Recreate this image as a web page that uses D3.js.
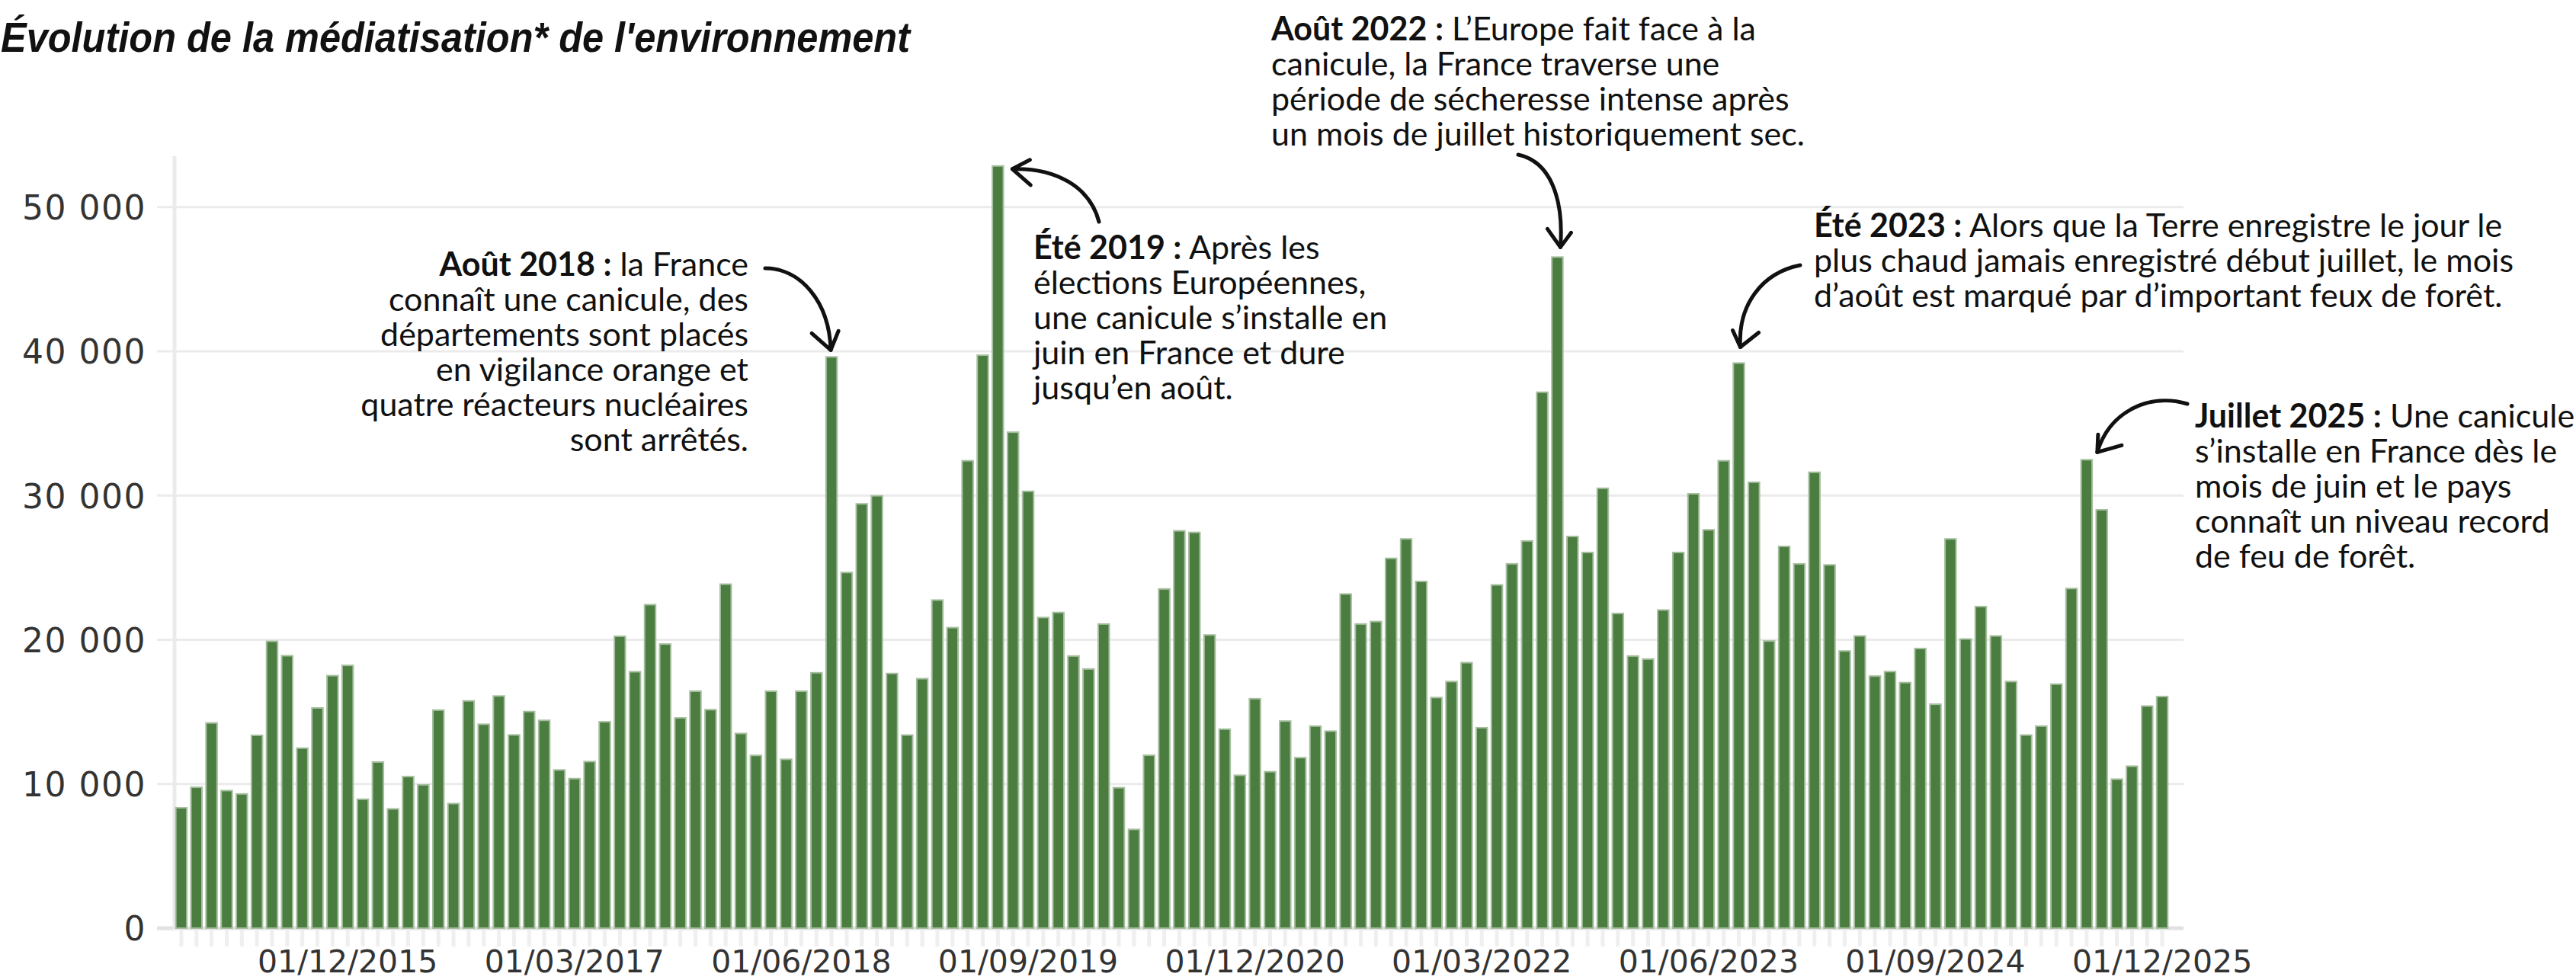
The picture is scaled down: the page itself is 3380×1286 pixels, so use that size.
<!DOCTYPE html>
<html>
<head>
<meta charset="utf-8">
<script src="https://cdn.jsdelivr.net/npm/d3@7"></script>
<style>
  body { margin: 0; background: #fff; }
  svg { display: block; }
</style>
</head>
<body>
<div id="vis"></div>
<script>
const FRAME_WIDTH = 3380;
const FRAME_HEIGHT = 1286;

// monthly values, one array per year (janvier -> décembre)
const VALUES_2015 = [8350, 9770, 14230, 9540, 9310, 13370, 19890, 18890, 12480, 15270, 17510, 18220];
const VALUES_2016 = [8940, 11520, 8270, 10510, 9940, 15120, 8640, 15760, 14140, 16100, 13400, 15020];
const VALUES_2017 = [14410, 10970, 10370, 11550, 14310, 20240, 17780, 22430, 19700, 14580, 16430, 15150];
const VALUES_2018 = [23850, 13500, 11980, 16430, 11710, 16430, 17710, 39610, 24660, 29420, 29980, 17660];
const VALUES_2019 = [13390, 17300, 22750, 20840, 32410, 39730, 52850, 34390, 30290, 21540, 21890, 18870];
const VALUES_2020 = [17970, 21090, 9740, 6850, 11990, 23520, 27550, 27440, 20330, 13800, 10600, 15910];
const VALUES_2021 = [10850, 14360, 11820, 14010, 13660, 23170, 21090, 21260, 25640, 26990, 24040, 15990];
const VALUES_2022 = [17100, 18410, 13900, 23800, 25260, 26850, 37160, 46530, 27160, 26050, 30500, 21820];
const VALUES_2023 = [18870, 18660, 22060, 26050, 30120, 27620, 32410, 39180, 30920, 19910, 26470, 25260];
const VALUES_2024 = [31610, 25190, 19220, 20260, 17480, 17790, 17030, 19390, 15530, 26990, 20050, 22300];
const VALUES_2025 = [20260, 17100, 13390, 14010, 16920, 23550, 32480, 29010, 10330, 11230, 15400, 16060];

const YEARS = [2015, 2016, 2017, 2018, 2019, 2020, 2021, 2022, 2023, 2024, 2025];
const YEAR_VALUES = [VALUES_2015, VALUES_2016, VALUES_2017, VALUES_2018, VALUES_2019, VALUES_2020,
                     VALUES_2021, VALUES_2022, VALUES_2023, VALUES_2024, VALUES_2025];

const X_TICK_LABELS = ["01/12/2015", "01/03/2017", "01/06/2018", "01/09/2019", "01/12/2020",
                       "01/03/2022", "01/06/2023", "01/09/2024", "01/12/2025"];
const Y_TICKS = [0, 10000, 20000, 30000, 40000, 50000];

const TITLE = "Évolution de la médiatisation* de l'environnement";

// annotations : bold heading + lines of text
const NOTE_2018 = { head: "Août 2018 :", lines: [" la France", "connaît une canicule, des", "départements sont placés",
                    "en vigilance orange et", "quatre réacteurs nucléaires", "sont arrêtés."], month: "08/2018" };
const NOTE_2019 = { head: "Été 2019 :", lines: [" Après les", "élections Européennes,", "une canicule s’installe en",
                    "juin en France et dure", "jusqu’en août."], month: "07/2019" };
const NOTE_2022 = { head: "Août 2022 :", lines: [" L’Europe fait face à la", "canicule, la France traverse une",
                    "période de sécheresse intense après", "un mois de juillet historiquement sec."], month: "08/2022" };
const NOTE_2023 = { head: "Été 2023 :", lines: [" Alors que la Terre enregistre le jour le",
                    "plus chaud jamais enregistré début juillet, le mois", "d’août est marqué par d’important feux de forêt."], month: "08/2023" };
const NOTE_2025 = { head: "Juillet 2025 :", lines: [" Une canicule", "s’installe en France dès le", "mois de juin et le pays",
                    "connaît un niveau record", "de feu de forêt."], month: "07/2025" };

// build the table
const data = [];
YEARS.forEach((yr, i) => {
  YEAR_VALUES[i].forEach((v, m) => {
    const mm = String(m + 1).padStart(2, "0");
    data.push({ month: mm + "/" + yr, value: v });
  });
});

const FRAME = d3.select("#vis")
  .append("svg")
    .attr("width", FRAME_WIDTH)
    .attr("height", FRAME_HEIGHT);

const X_SCALE = d3.scaleBand()
  .domain(data.map(d => d.month))
  .range([228, 2847])
  .paddingInner(0.27)
  .paddingOuter(0.135);

const Y_SCALE = d3.scaleLinear()
  .domain([0, 50000])
  .range([1218, 271.7]);

const frFormat = d3.formatLocale({ decimal: ",", thousands: " ", grouping: [3], currency: ["", " €"] }).format(",");

// gridlines
FRAME.append("g")
  .selectAll("line")
  .data(Y_TICKS)
  .enter()
  .append("line")
    .attr("x1", 206)
    .attr("x2", 2865)
    .attr("y1", d => Y_SCALE(d))
    .attr("y2", d => Y_SCALE(d))
    .attr("stroke", d => d === 0 ? "#e2e2e2" : "#ebebeb")
    .attr("stroke-width", d => d === 0 ? 5 : 3);

// vertical axis line
FRAME.append("line")
  .attr("x1", 229).attr("x2", 229)
  .attr("y1", 205).attr("y2", 1221)
  .attr("stroke", "#ebebeb")
  .attr("stroke-width", 5);

// y labels
const yAxis = FRAME.append("g")
  .attr("transform", "translate(192,0)")
  .call(d3.axisLeft(Y_SCALE).tickValues(Y_TICKS).tickFormat(frFormat).tickSize(0).tickPadding(0));
yAxis.select(".domain").remove();
yAxis.selectAll("text")
  .attr("font-family", "DejaVu Sans")
  .attr("font-size", 44)
  .attr("letter-spacing", 1.5)
  .attr("fill", "#333")
  .attr("dy", "0.36em");

// x axis : ticks under every bar, a label every 15 months
const labelFor = {};
X_TICK_LABELS.forEach(l => { labelFor[l.slice(3)] = l; });

const xAxis = FRAME.append("g")
  .attr("transform", "translate(0,1220)")
  .call(d3.axisBottom(X_SCALE).tickSize(22).tickPadding(0)
        .tickFormat(d => labelFor[d] || ""));
xAxis.select(".domain").remove();
xAxis.selectAll(".tick line")
  .attr("stroke", "#efefef")
  .attr("stroke-width", 5);
xAxis.selectAll("text")
  .attr("font-family", "DejaVu Sans")
  .attr("font-size", 41)
  .attr("fill", "#333")
  .attr("y", 56)
  .attr("dy", 0);

// bars
FRAME.append("g")
  .selectAll("rect")
  .data(data)
  .enter()
  .append("rect")
    .attr("x", d => X_SCALE(d.month))
    .attr("y", d => Y_SCALE(d.value))
    .attr("width", X_SCALE.bandwidth())
    .attr("height", d => Y_SCALE(0) - Y_SCALE(d.value))
    .attr("fill", "#4b7d40")
    .attr("stroke", "#a6bf9f")
    .attr("stroke-width", 2);

// title (condensed bold italic, squeezed to the reference width)
FRAME.append("text")
  .attr("x", 1)
  .attr("y", 68)
  .attr("font-family", "Liberation Sans Narrow, Liberation Sans, sans-serif")
  .attr("font-style", "italic")
  .attr("font-weight", "bold")
  .attr("font-size", 56)
  .attr("fill", "#111")
  .attr("textLength", 1193)
  .attr("lengthAdjust", "spacingAndGlyphs")
  .text(TITLE);

// annotation text
function drawNote(note, x, y, anchor) {
  const t = FRAME.append("text")
    .attr("font-family", "Lato")
    .attr("font-size", 43)
    .attr("fill", "#111")
    .attr("text-anchor", anchor);
  t.append("tspan").attr("x", x).attr("y", y).attr("font-weight", "bold").text(note.head);
  t.append("tspan").text(note.lines[0]);
  note.lines.slice(1).forEach((l, i) => {
    t.append("tspan").attr("x", x).attr("y", y + 46 * (i + 1)).text(l);
  });
}

drawNote(NOTE_2018, 982, 362, "end");
drawNote(NOTE_2019, 1356, 340, "start");
drawNote(NOTE_2022, 1668, 53, "start");
drawNote(NOTE_2023, 2380, 311, "start");
drawNote(NOTE_2025, 2880, 561, "start");

// arrows, tip placed from the scales
function barTop(month) {
  const d = data.find(e => e.month === month);
  return [X_SCALE(month) + X_SCALE.bandwidth() / 2, Y_SCALE(d.value)];
}

function drawArrow(start, c1, c2, tip, armA, armB) {
  const g = FRAME.append("g")
    .attr("fill", "none")
    .attr("stroke", "#111")
    .attr("stroke-width", 5)
    .attr("stroke-linecap", "round")
    .attr("stroke-linejoin", "round");
  const p = d3.path();
  p.moveTo(start[0], start[1]);
  p.bezierCurveTo(c1[0], c1[1], c2[0], c2[1], tip[0], tip[1]);
  g.append("path").attr("d", p.toString());
  const h = d3.path();
  h.moveTo(tip[0] + armA[0], tip[1] + armA[1]);
  h.lineTo(tip[0], tip[1]);
  h.lineTo(tip[0] + armB[0], tip[1] + armB[1]);
  g.append("path").attr("d", h.toString());
}

let b = barTop(NOTE_2018.month);
let tip = [b[0] - 1, b[1] - 9];
drawArrow([1004, 352], [1050, 352], [1088, 395], tip, [-25, -22], [10, -25]);

b = barTop(NOTE_2019.month);
tip = [b[0] + 19, b[1] + 4];
drawArrow([1442, 291], [1430, 245], [1385, 220], tip, [23, -12], [24, 21]);

b = barTop(NOTE_2022.month);
tip = [b[0] + 4, b[1] - 13];
drawArrow([1992, 203], [2035, 212], [2052, 262], tip, [-17, -24], [14, -19]);

b = barTop(NOTE_2023.month);
tip = [b[0] + 2, b[1] - 21];
drawArrow([2362, 348], [2312, 358], [2280, 400], tip, [-10, -22], [24, -19]);

b = barTop(NOTE_2025.month);
tip = [b[0] + 14, b[1] - 10];
drawArrow([2870, 530], [2820, 515], [2768, 540], tip, [1, -23], [32, -9]);
</script>
</body>
</html>
